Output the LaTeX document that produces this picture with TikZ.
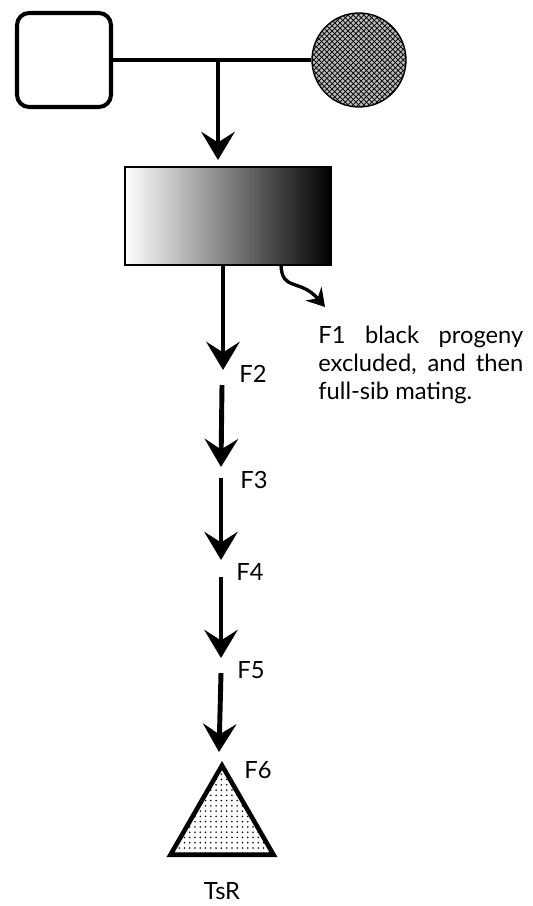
\documentclass[tikz,border=0pt]{standalone}
\usepackage{fontspec}
\setmainfont{Lato}
\usetikzlibrary{arrows.meta,patterns,shapes.geometric,positioning,calc}

\begin{document}
\begin{tikzpicture}[x=0.02cm,y=-0.02cm,
		gen/.style={line width=2.8pt,-{Stealth[length=16pt,width=19pt,inset=6pt]}},
		lab/.style={font=\fontsize{13.5}{15.9}\selectfont,inner sep=0pt}]
		\useasboundingbox (0,0) rectangle (533,906);
		% parents
		\node[draw,line width=2.3pt,rounded corners=0.24cm,minimum size=1.88cm] (sire) at (64,60) {};
		\node[draw,circle,line width=0.8pt,minimum size=1.88cm,fill=gray!55,
			postaction={pattern=crosshatch}] (dam) at (359,60) {};
		\draw[line width=2.3pt] (sire.east) -- (dam.west);
		\coordinate (mate) at (218,60);
		% F1
		\node[draw,line width=0.8pt,minimum width=4.12cm,minimum height=1.96cm,
			left color=white,middle color=black!40,right color=black] (fone) at (228,216) {};
		\draw[gen] (mate) -- (mate |- 0,160);
		\draw[line width=1.9pt,-{Stealth[length=10pt,width=12pt,inset=3.5pt]}]
			(281,265) .. controls (282,292) and (300,278) .. (325,307);
		\node[lab,anchor=north west,text width=4.1cm,align=justify] (note) at (318,326)
			{F1 black progeny excluded, and then full-sib mating.};
		% generations
		\coordinate (s1) at (223,265);  \coordinate (e1) at (223,370);
		\coordinate (s2) at (222,385);  \coordinate (e2) at (221,467);
		\coordinate (s3) at (221,478);  \coordinate (e3) at (221,560);
		\coordinate (s4) at (221,577);  \coordinate (e4) at (221,658);
		\coordinate (s5) at (221,673);  \coordinate (e5) at (219,752);
		\foreach \i in {1,...,5}
			\draw[gen] (s\i) -- (e\i);
		\node[lab] (f2) at (253,374) {F2};
		\node[lab] (f3) at (254,480) {F3};
		\node[lab] (f4) at (250,572) {F4};
		\node[lab] (f5) at (251,670) {F5};
		\node[lab] (f6) at (258,770) {F6};
		% inbred strain
		\node[draw,regular polygon,regular polygon sides=3,line width=2.6pt,inner sep=0pt,
			minimum size=2.38cm,fill=white,postaction={pattern=dots}] (tsr) at (222,825) {};
		\node[lab,below=0.5cm of tsr.south] (name) {TsR};
\end{tikzpicture}
\end{document}
